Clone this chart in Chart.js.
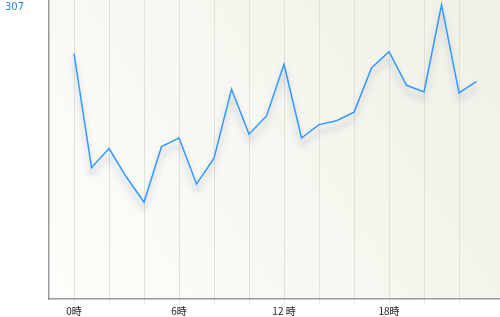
<!DOCTYPE html>
<html>
<head>
<meta charset="utf-8">
<script src="https://cdn.jsdelivr.net/npm/chart.js@4"></script>
<style>
  html, body { margin: 0; padding: 0; background: #fff; }
  #wrap { width: 500px; height: 317px; }
</style>
</head>
<body>
<div id="wrap"><canvas id="hourChart"></canvas></div>
<script>
// hourly access counts, 0時 .. 23時
const hours = [0,1,2,3,4,5,6,7,8,9,10,11,12,13,14,15,16,17,18,19,20,21,22,23];
const counts = [256,137,157,127,101,159,168,120,147,219,172,191,245,168,182,186,195,241,258,223,216,307,215,227];
const gridHours = [0,2,4,6,8,10,12,14,16,18,20,22];
const hourLabels = {0: '0時', 6: '6時', 12: '12 時', 18: '18時'};
const maxLabel = [307];

// soft shadow under the line
const lineShadow = {
    id: 'lineShadow',
    beforeDatasetDraw(chart) {
        const ctx = chart.ctx;
        ctx.save();
        ctx.shadowColor = 'rgba(80,110,170,0.45)';
        ctx.shadowBlur = 6;
        ctx.shadowOffsetY = 7;
    },
    afterDatasetDraw(chart) {
        chart.ctx.restore();
    }
};

// beige gradient behind the plot
const plotBg = {
    id: 'plotBg',
    beforeDraw(chart) {
        const {ctx, chartArea: a} = chart;
        const g = ctx.createLinearGradient(a.left, a.bottom, a.right, a.top);
        g.addColorStop(0, '#fdfdfb');
        g.addColorStop(1, '#f1f0e5');
        ctx.save();
        ctx.fillStyle = g;
        ctx.fillRect(a.left, a.top, a.right - a.left, a.bottom - a.top);
        ctx.restore();
    }
};

const ctx = document.getElementById('hourChart');
new Chart(ctx, {
    type: 'line',
    data: {
        datasets: [{
            data: hours.map((h, i) => ({x: h, y: counts[i]})),
            borderColor: '#3399ff',
            borderWidth: 1.5,
            pointRadius: 0,
            tension: 0,
            fill: false
        }]
    },
    options: {
        responsive: true,
        maintainAspectRatio: false,
        animation: false,
        layout: { padding: { left: 5, top: 0, right: 0, bottom: 0 } },
        plugins: {
            legend: { display: false },
            tooltip: { enabled: false }
        },
        scales: {
            x: {
                type: 'linear',
                min: -1.43,
                max: 24.34,
                afterBuildTicks: (scale) => {
                    scale.ticks = gridHours.map(v => ({value: v}));
                },
                afterFit: (scale) => {
                    scale.height = 18;
                    scale.paddingLeft = 0;
                    scale.paddingRight = 0;
                },
                grid: {
                    color: '#e1e1da',
                    tickColor: '#ebebe6',
                    tickLength: 5,
                    drawOnChartArea: true
                },
                border: { color: '#999999', width: 1.5 },
                ticks: {
                    autoSkip: false,
                    maxRotation: 0,
                    padding: 1,
                    color: '#222',
                    font: { family: '"Noto Sans CJK JP", sans-serif', size: 10 },
                    callback: (v) => hourLabels[v] || ''
                }
            },
            y: {
                min: 0,
                max: 312,
                afterBuildTicks: (scale) => {
                    scale.ticks = maxLabel.map(v => ({value: v}));
                },
                afterFit: (scale) => {
                    scale.width = 44;
                    scale.paddingTop = 0;
                    scale.paddingBottom = 0;
                },
                grid: { display: false },
                border: { color: '#999999', width: 1.5 },
                ticks: {
                    crossAlign: 'far',
                    labelOffset: 3,
                    color: '#1e88e5',
                    font: { family: 'Verdana, "DejaVu Sans", sans-serif', size: 10 }
                }
            }
        }
    },
    plugins: [plotBg, lineShadow]
});
</script>
</body>
</html>
